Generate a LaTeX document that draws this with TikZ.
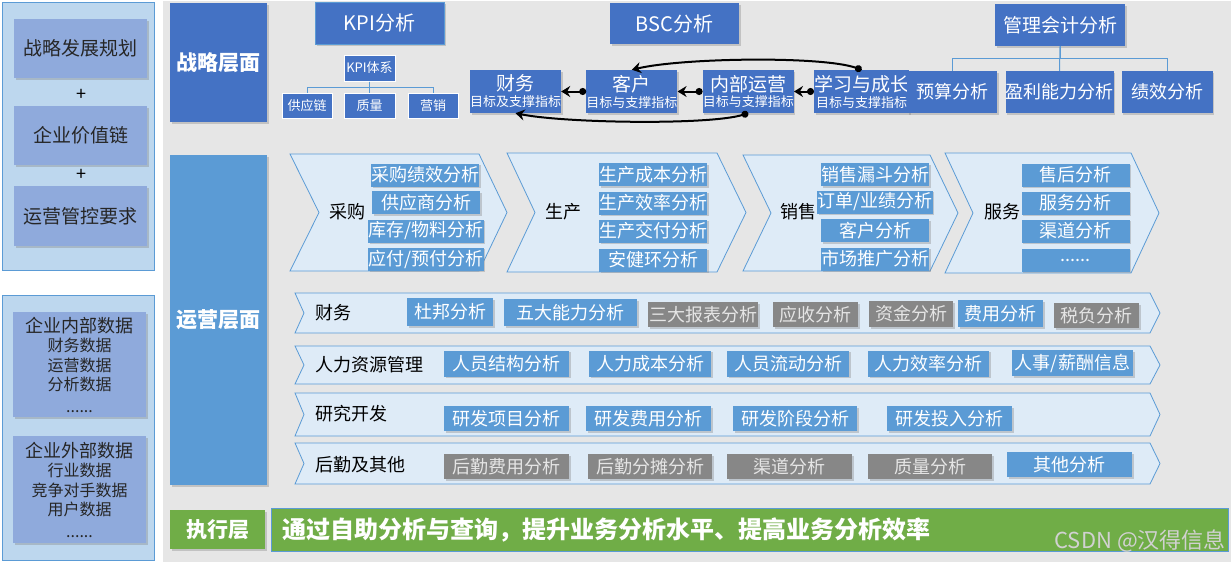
\documentclass[tikz,border=0pt]{standalone}
\usepackage{fontspec}
\setmainfont{Noto Sans CJK SC}
\usetikzlibrary{positioning, arrows.meta, calc, shadows}

\definecolor{bggray}{HTML}{E6E6E6}
\definecolor{panelblue}{HTML}{BDD7EE}
\definecolor{panelbox}{HTML}{8FAADC}
\definecolor{darkblue}{HTML}{4472C4}
\definecolor{midblue}{HTML}{5B9BD5}
\definecolor{chevfill}{HTML}{DEEBF7}
\definecolor{boxgray}{HTML}{878787}
\definecolor{leafgreen}{HTML}{70AD47}

\begin{document}
\begin{tikzpicture}[
	x=1pt, y=-1pt,
	% --- Styles ---
	panel/.style={draw=midblue, fill=panelblue, line width=1pt},
	srcbox/.style={
		rectangle, fill=panelbox, text=black!85, drop shadow={shadow xshift=1.5pt, shadow yshift=-1.5pt, opacity=.35},
		minimum width=133pt, inner sep=0pt, align=center, font=\fontsize{19}{23}\selectfont
	},
	layerbox/.style={
		rectangle, fill=darkblue, text=white, drop shadow={shadow xshift=1.5pt, shadow yshift=-1.5pt, opacity=.35},
		minimum width=97pt, inner sep=0pt, font=\bfseries\fontsize{21}{25}\selectfont
	},
	topbox/.style={
		rectangle, fill=darkblue, text=white, drop shadow={shadow xshift=1.5pt, shadow yshift=-1.5pt, opacity=.35},
		inner sep=0pt, minimum height=42pt, font=\fontsize{18}{22}\selectfont
	},
	kpibox/.style={
		rectangle, draw=white, fill=darkblue, text=white, line width=1pt,
		minimum width=50pt, minimum height=25pt, inner sep=0pt, font=\fontsize{13}{15}\selectfont
	},
	bscbox/.style={
		topbox, minimum width=91pt, minimum height=43pt, align=center, font=\fontsize{13}{16}\selectfont
	},
	treeline/.style={draw=midblue, line width=1pt},
	bscarrow/.style={
		draw=black, line width=2pt, {Circle[length=7pt]}-{Stealth[length=9pt, width=11pt, inset=3pt]}
	},
	chevron/.style={draw=midblue, fill=chevfill, line width=0.8pt},
	stage/.style={text=black, inner sep=0pt, font=\fontsize{18}{22}\selectfont},
	anabox/.style={
		rectangle, fill=midblue, text=white, drop shadow={shadow xshift=1.5pt, shadow yshift=-1.5pt, opacity=.35},
		inner sep=0pt, minimum width=108pt, minimum height=23pt, font=\fontsize{18}{22}\selectfont
	},
	grayana/.style={anabox, fill=boxgray, text=white!90!black}
	]
	
	\useasboundingbox (0,0) rectangle (1231,562);
	
	% --- 1. Left panels (inputs) ---
	\draw [panel] (2,2) rectangle (154,270);
	\node [srcbox, minimum height=59pt] (plan) at (80.5,48.5) {战略发展规划};
	\node [srcbox, minimum height=59pt] (chain) at (80.5,135.5) {企业价值链};
	\node [srcbox, minimum height=60pt] (ctrl) at (80.5,216) {运营管控要求};
	\node [font=\fontsize{18}{22}\selectfont, inner sep=0pt] (plus1) at (81,95) {+};
	\node [font=\fontsize{18}{22}\selectfont, inner sep=0pt] (plus2) at (81,175) {+};
	
	\draw [panel] (2,295) rectangle (154,560);
	\node [srcbox, minimum height=105pt, font=\fontsize{16}{19.5}\selectfont] (inner) at (79.5,364.5)
		{{\fontsize{18}{20}\selectfont 企业内部数据}\\财务数据\\运营数据\\分析数据\\[2pt]......};
	\node [srcbox, minimum height=107pt, font=\fontsize{16}{19.5}\selectfont] (outer) at (79.5,489.5)
		{{\fontsize{18}{20}\selectfont 企业外部数据}\\行业数据\\竞争对手数据\\用户数据\\[2pt]......};
	
	% --- 2. Main area and layer labels ---
	\fill [bggray] (163,1) rectangle (1231,562);
	\node [layerbox, minimum height=119pt] (strat) at (218.5,62.5) {战略层面};
	\node [layerbox, fill=midblue, minimum height=330pt] (oper) at (218.5,320) {运营层面};
	\node [layerbox, fill=leafgreen, minimum width=95pt, minimum height=39pt] (exec) at (217.5,529.5) {执行层};
	
	% --- 3. Strategy layer: KPI ---
	\node [topbox, draw=midblue, line width=1pt, minimum width=129pt, font=\fontsize{20}{24}\selectfont] (kpi) at (379.5,23) {KPI分析};
	\node [kpibox, minimum width=51pt, minimum height=26pt] (kpisys) at (369.5,68) {KPI体系};
	\node [kpibox, minimum width=51pt, below=11pt of kpisys] (zl) {质量};
	\node [kpibox, left=11pt of zl] (gyl) {供应链};
	\node [kpibox, right=12pt of zl] (yx) {营销};
	\draw [treeline] (kpisys.south) -- (zl.north);
	\draw [treeline] (kpisys.south) -- ++(0,6) -| (gyl.north);
	\draw [treeline] (kpisys.south) -- ++(0,6) -| (yx.north);
	
	% --- 4. Strategy layer: BSC ---
	\node [topbox, minimum width=129pt, minimum height=41pt, font=\fontsize{20}{24}\selectfont] (bsc) at (674.5,23.5) {BSC分析};
	\node [bscbox] (caiwu) at (515.5,91.5) {\fontsize{19}{21}\selectfont 财务\\\fontsize{13}{16}\selectfont 目标及支撑指标};
	\node [bscbox, right=25pt of caiwu] (kehu) {\fontsize{19}{21}\selectfont 客户\\\fontsize{13}{16}\selectfont 目标与支撑指标};
	\node [bscbox, right=25pt of kehu] (neibu) {\fontsize{19}{21}\selectfont 内部运营\\\fontsize{13}{16}\selectfont 目标与支撑指标};
	\node [bscbox, right=20pt of neibu] (xuexi) {\fontsize{19}{21}\selectfont 学习与成长\\\fontsize{13}{16}\selectfont 目标与支撑指标};
	
	% Links between the four perspectives
	\draw [bscarrow] (kehu.west) -- (caiwu.east);
	\draw [bscarrow] (neibu.west) -- (kehu.east);
	\draw [bscarrow] (xuexi.west) -- (neibu.east);
	\draw [bscarrow] (xuexi.north) .. controls +(-40,-14) and +(50,-12) .. (kehu.north);
	\draw [bscarrow] (neibu.south) .. controls +(-40,12) and +(50,10) .. (caiwu.south);
	
	% --- 5. Strategy layer: management accounting ---
	\node [topbox, minimum width=130pt, font=\fontsize{19}{23}\selectfont] (mgmt) at (1060,25) {管理会计分析};
	\node [topbox, minimum width=103pt] (ylnl) at (1059.5,92) {盈利能力分析};
	\node [topbox, minimum width=90pt, left=8pt of ylnl] (ys) {预算分析};
	\node [topbox, minimum width=91pt, right=8pt of ylnl] (jx) {绩效分析};
	\draw [treeline] (mgmt.south) -- (ylnl.north);
	\draw [treeline] (mgmt.south) -- ++(0,12) -| (ys.north);
	\draw [treeline] (mgmt.south) -- ++(0,12) -| (jx.north);
	
	% --- 6. Operation layer: value chain ---
	\draw [chevron] (290,154) -- (479,154) -- (507,212.5) -- (479,271) -- (290,271) -- (319,212.5) -- cycle;
	\draw [chevron] (507,153) -- (717,153) -- (746,212.5) -- (717,272) -- (507,272) -- (535,212.5) -- cycle;
	\draw [chevron] (743,155) -- (930,155) -- (958,213) -- (930,271) -- (743,271) -- (771,213) -- cycle;
	\draw [chevron] (945,153) -- (1131,153) -- (1159,213) -- (1131,273) -- (945,273) -- (973,213) -- cycle;
	
	\node [stage] (cg) at (347,212) {采购};
	\node [stage] (sc) at (563,212) {生产};
	\node [stage] (xs) at (798,212) {销售};
	\node [stage] (fw) at (1002,212) {服务};
	
	\node [anabox] (cg1) at (425,175) {采购绩效分析};
	\node [anabox] (cg2) at (426,202.5) {供应商分析};
	\node [anabox] (cg3) at (426,231) {库存/物料分析};
	\node [anabox] (cg4) at (426,259) {应付/预付分析};
	
	\node [anabox] (sc1) at (653,174.5) {生产成本分析};
	\node [anabox] (sc2) at (653,203) {生产效率分析};
	\node [anabox] (sc3) at (653,231) {生产交付分析};
	\node [anabox] (sc4) at (653,260) {安健环分析};
	
	\node [anabox] (xs1) at (875,174.5) {销售漏斗分析};
	\node [anabox] (xs2) at (875,202) {订单/业绩分析};
	\node [anabox] (xs3) at (875,230.5) {客户分析};
	\node [anabox] (xs4) at (875,259) {市场推广分析};
	
	\node [anabox] (fw1) at (1075.5,175) {售后分析};
	\node [anabox] (fw2) at (1075.5,203) {服务分析};
	\node [anabox] (fw3) at (1075.5,231) {渠道分析};
	\node [anabox] (fw4) at (1075.5,260) {......};
	
	% --- 7. Operation layer: support functions ---
	\draw [chevron] (295,293) -- (1150,293) -- (1160,313) -- (1150,333) -- (295,333) -- (304,313) -- cycle;
	\draw [chevron] (295,346) -- (1150,346) -- (1160,365) -- (1150,384) -- (295,384) -- (304,365) -- cycle;
	\draw [chevron] (295,393) -- (1150,393) -- (1160,414.5) -- (1150,436) -- (295,436) -- (304,414.5) -- cycle;
	\draw [chevron] (295,443) -- (1150,443) -- (1160,463.5) -- (1150,484) -- (295,484) -- (304,463.5) -- cycle;
	
	\node [stage, anchor=west] (lcw) at (315,313) {财务};
	\node [stage, anchor=west] (lhr) at (315,365) {人力资源管理};
	\node [stage, anchor=west] (lrd) at (315,414) {研究开发};
	\node [stage, anchor=west] (lhq) at (315,465) {后勤及其他};
	
	% Finance row
	\node [anabox, minimum width=86pt, minimum height=28pt] (cw1) at (450,312) {杜邦分析};
	\node [anabox, minimum width=133pt, minimum height=27pt] (cw2) at (570.5,312.5) {五大能力分析};
	\node [grayana, minimum width=110pt, minimum height=25pt] (cw3) at (703,314.5) {三大报表分析};
	\node [grayana, minimum width=85pt, minimum height=25pt] (cw4) at (815.5,314.5) {应收分析};
	\node [grayana, minimum width=84pt, minimum height=26pt] (cw5) at (911,314) {资金分析};
	\node [anabox, minimum width=85pt, minimum height=27pt] (cw6) at (1000.5,313.5) {费用分析};
	\node [grayana, minimum width=85pt, minimum height=25pt] (cw7) at (1096.5,315.5) {税负分析};
	
	% HR row
	\node [anabox, minimum width=125pt, minimum height=26pt] (hr1) at (506.5,363.5) {人员结构分析};
	\node [anabox, minimum width=122pt, minimum height=26pt] (hr2) at (650,363.5) {人力成本分析};
	\node [anabox, minimum width=122pt, minimum height=26pt] (hr3) at (788,363.5) {人员流动分析};
	\node [anabox, minimum width=121pt, minimum height=26pt] (hr4) at (928.5,363.5) {人力效率分析};
	\node [anabox, minimum width=121pt, minimum height=26pt] (hr5) at (1072.5,363) {人事/薪酬信息};
	
	% R&D row
	\node [anabox, minimum width=125pt, minimum height=25pt] (rd1) at (506.5,418.5) {研发项目分析};
	\node [anabox, minimum width=125pt, minimum height=25pt] (rd2) at (648.5,418.5) {研发费用分析};
	\node [anabox, minimum width=124pt, minimum height=25pt] (rd3) at (795,418.5) {研发阶段分析};
	\node [anabox, minimum width=125pt, minimum height=25pt] (rd4) at (949.5,418.5) {研发投入分析};
	
	% Logistics row
	\node [grayana, minimum width=125pt, minimum height=25pt] (hq1) at (506.5,466.5) {后勤费用分析};
	\node [grayana, minimum width=124pt, minimum height=25pt] (hq2) at (650,466.5) {后勤分摊分析};
	\node [grayana, minimum width=125pt, minimum height=25pt] (hq3) at (789.5,466.5) {渠道分析};
	\node [grayana, minimum width=124pt, minimum height=25pt] (hq4) at (930,466.5) {质量分析};
	\node [anabox, minimum width=125pt, minimum height=25pt] (hq5) at (1069.5,464.5) {其他分析};
	
	% --- 8. Execution layer ---
	\node [rectangle, draw=midblue, fill=leafgreen, text=white, line width=1pt, minimum height=43pt,
		text width=935pt, inner xsep=11pt, inner ysep=0pt, align=left, font=\bfseries\fontsize{24}{28}\selectfont]
		(goal) at (749.5,529.5) {通过自助分析与查询，提升业务分析水平、提高业务分析效率};
	
	\node [anchor=east, inner sep=0pt, text=white!82!black, font=\fontsize{22}{26}\selectfont] (mark) at (1226,541) {CSDN @汉得信息};
	
\end{tikzpicture}
\end{document}
